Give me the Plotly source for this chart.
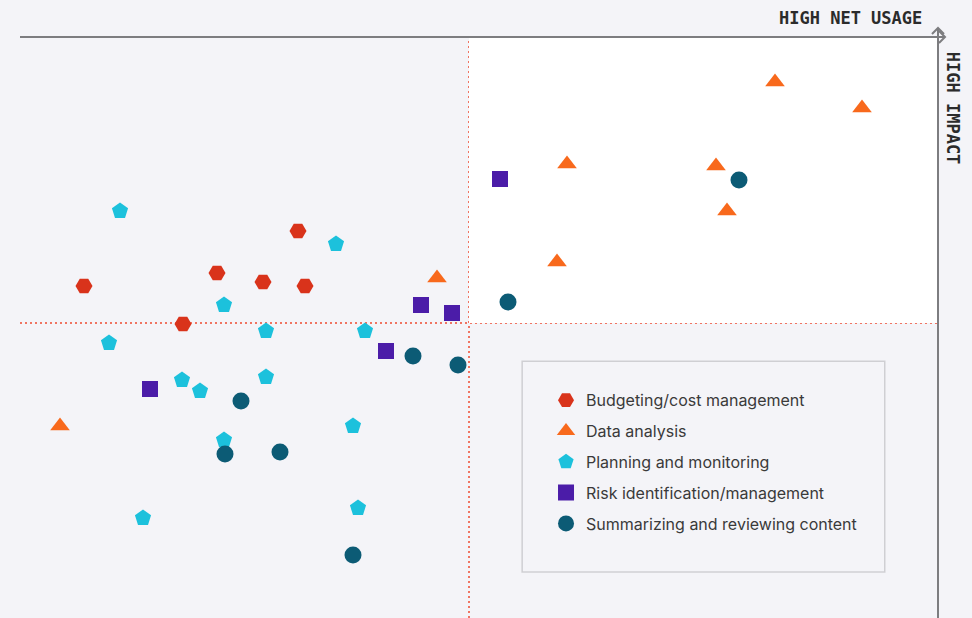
import plotly.graph_objects as go

# ---- data (arbitrary score units; x: net usage, y: impact) ----
budget_x = [6.4, 16.3, 19.7, 24.3, 27.8, 28.5]
budget_y = [33.2, 29.4, 34.5, 33.6, 38.7, 33.2]

data_x = [4.0, 41.7, 53.7, 54.7, 69.6, 70.7, 75.5, 84.2]
data_y = [19.2, 34.0, 35.6, 45.4, 45.2, 40.7, 53.6, 51.0]

plan_x = [10.0, 8.9, 12.3, 16.2, 18.0, 20.4, 20.4, 24.6, 24.6, 31.6, 33.3, 33.8, 34.5]
plan_y = [40.7, 27.5, 10.0, 23.8, 22.7, 31.3, 17.8, 28.7, 24.1, 37.4, 19.2, 11.0, 28.7]

risk_x = [13.0, 36.6, 40.1, 43.2, 48.0]
risk_y = [22.9, 26.7, 31.3, 30.5, 43.9]

summ_x = [20.5, 22.1, 26.0, 33.3, 39.3, 43.8, 48.8, 71.9]
summ_y = [16.4, 21.7, 16.6, 6.3, 26.2, 25.3, 31.6, 43.8]

x_mid = 44.9
y_mid = 29.5
x_max = 91.8
y_max = 58.1

series = [
    ("Budgeting/cost management", budget_x, budget_y, "hexagon2", "#d9331b", 17),
    ("Data analysis", data_x, data_y, "triangle-up", "#f8691c", 17),
    ("Planning and monitoring", plan_x, plan_y, "pentagon", "#1cc1dc", 17),
    ("Risk identification/management", risk_x, risk_y, "square", "#4b1ca8", 16),
    ("Summarizing and reviewing content", summ_x, summ_y, "circle", "#0c5b75", 17),
]

BG = "#f4f4f8"
AXIS = "#7d7d80"
DOT = "#f07462"

fig = go.Figure()
for i, (name, xs, ys, sym, col, sz) in enumerate(series):
    fig.add_trace(go.Scatter(
        x=xs, y=ys, mode="markers", name=name, legendgroup=f"g{i}",
        marker=dict(symbol=sym, color=col, size=sz, line=dict(width=0)),
    ))

shapes = [
    # white high/high quadrant
    dict(type="rect", xref="x", yref="y", x0=x_mid, x1=x_max, y0=y_mid, y1=y_max,
         fillcolor="white", line=dict(width=0), layer="below"),
    # dotted quadrant dividers
    dict(type="line", xref="x", yref="paper", x0=x_mid, x1=x_mid, y0=0, y1=1,
         line=dict(color=DOT, width=2, dash="2px,3px"), layer="below"),
    dict(type="line", xref="paper", yref="y", x0=0, x1=1, y0=y_mid, y1=y_mid,
         line=dict(color=DOT, width=2, dash="2px,3px"), layer="below"),
    # legend box
    dict(type="rect", xref="paper", yref="paper", x0=0.547, x1=0.942, y0=0.079, y1=0.442,
         fillcolor=BG, line=dict(color="#cfcfd3", width=1.5), layer="below"),
    # axis lines
    dict(type="line", xref="paper", yref="paper", x0=0, x1=1, y0=1, y1=1,
         line=dict(color=AXIS, width=2)),
    dict(type="line", xref="paper", yref="paper", x0=1, x1=1, y0=0, y1=1,
         line=dict(color=AXIS, width=2)),
    dict(type="line", xref="paper", yref="paper", xsizemode="pixel", xanchor=1,
         x0=0, x1=7, y0=1, y1=1, line=dict(color=AXIS, width=2)),
    dict(type="line", xref="paper", yref="paper", ysizemode="pixel", yanchor=1,
         x0=1, x1=1, y0=0, y1=9, line=dict(color=AXIS, width=2)),
    # arrow heads
    dict(type="path", xref="paper", yref="paper", xsizemode="pixel", xanchor=1,
         ysizemode="pixel", yanchor=1, path="M -6 3 L 0 9 L 6 3",
         line=dict(color=AXIS, width=2)),
    dict(type="path", xref="paper", yref="paper", xsizemode="pixel", xanchor=1,
         ysizemode="pixel", yanchor=1, path="M 1 6 L 7 0 L 1 -6",
         line=dict(color=AXIS, width=2)),
]

annotations = [
    dict(text="HIGH NET USAGE", xref="paper", yref="paper", x=0.985, y=1.033,
         xanchor="right", yanchor="middle", showarrow=False,
         font=dict(family="DejaVu Sans Mono", size=17, color="#2b2b2b", weight="bold")),
    dict(text="HIGH IMPACT", xref="paper", yref="paper", x=1.016, y=0.877,
         xanchor="center", yanchor="middle", showarrow=False, textangle=90,
         font=dict(family="DejaVu Sans Mono", size=17, color="#2b2b2b", weight="bold")),
]

fig.update_layout(
    width=972, height=618,
    margin=dict(l=20, r=34, t=37, b=0),
    paper_bgcolor=BG, plot_bgcolor=BG,
    xaxis=dict(range=[0, x_max], showgrid=False, zeroline=False, showticklabels=False,
               showline=False, fixedrange=True),
    yaxis=dict(range=[0, y_max], showgrid=False, zeroline=False, showticklabels=False,
               showline=False, fixedrange=True),
    shapes=shapes,
    annotations=annotations,
    showlegend=True,
    legend=dict(x=0.573, y=0.404, xanchor="left", yanchor="top",
                bgcolor="rgba(0,0,0,0)", borderwidth=0,
                traceorder="grouped", tracegroupgap=7,
                font=dict(family="Inter", size=16, color="#3a3a3a")),
)

fig.write_html("out.html", config={"displayModeBar": False},
               post_script="document.body.style.margin='0';document.body.style.background='%s';" % BG)
